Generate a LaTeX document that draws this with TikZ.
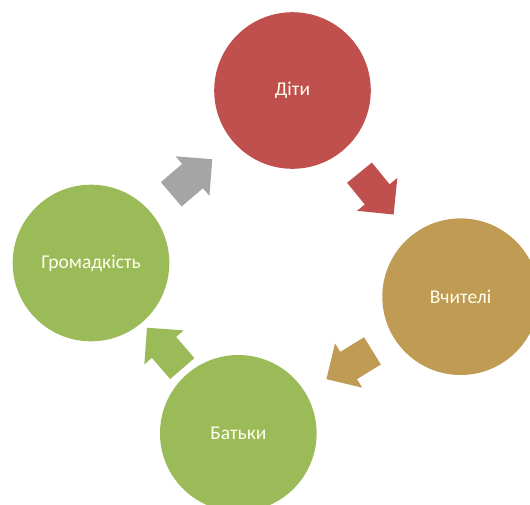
\documentclass[tikz,border=0pt]{standalone}
\usepackage{fontspec}
\setmainfont{Carlito}
\usetikzlibrary{calc}
\definecolor{cred}{HTML}{C0504D}
\definecolor{ctan}{HTML}{C09B53}
\definecolor{cgreen}{HTML}{9BBB59}
\definecolor{cgray}{HTML}{A5A5A5}
\tikzset{
  bubble/.style={circle, minimum size=156.6pt, inner sep=0pt, text=white!93!yellow, font=\fontsize{19.5}{22}\selectfont},
  pics/barrow/.style={code={\fill[pic actions] (-27,-16) -- (1,-16) -- (1,-26) -- (27,0) -- (1,26) -- (1,16) -- (-27,16) -- cycle;}}
}
\begin{document}
\begin{tikzpicture}[x=1pt,y=-1pt]
\useasboundingbox (0,0) rectangle (530,504);
\clip (0,0) rectangle (530,504);
\fill[white] (0,0) rectangle (530,504);
\node[bubble, fill=cred] (diti) at (292.5,90.5) {Діти};
\node[bubble, fill=ctan] (vch) at (460.6,296.7) {Вчителі};
\node[bubble, fill=cgreen] (bat) at (238.3,433.3) {Батьки};
\node[bubble, fill=cgreen] (grom) at (91,263) {Громадкість};
\path let \p1=($(vch)-(diti)$), \n1={atan2(\y1,\x1)} in ($(diti)!0.5!(vch)$) pic[rotate=\n1, fill=cred] {barrow};
\path let \p1=($(bat)-(vch)$), \n1={atan2(\y1,\x1)} in ($(vch)!0.5!(bat)$) pic[rotate=\n1, fill=ctan] {barrow};
\path let \p1=($(grom)-(bat)$), \n1={atan2(\y1,\x1)} in ($(bat)!0.5!(grom)$) pic[rotate=\n1, fill=cgreen] {barrow};
\path let \p1=($(diti)-(grom)$), \n1={atan2(\y1,\x1)} in ($(grom)!0.5!(diti)$) pic[rotate=\n1, fill=cgray] {barrow};
\end{tikzpicture}
\end{document}
